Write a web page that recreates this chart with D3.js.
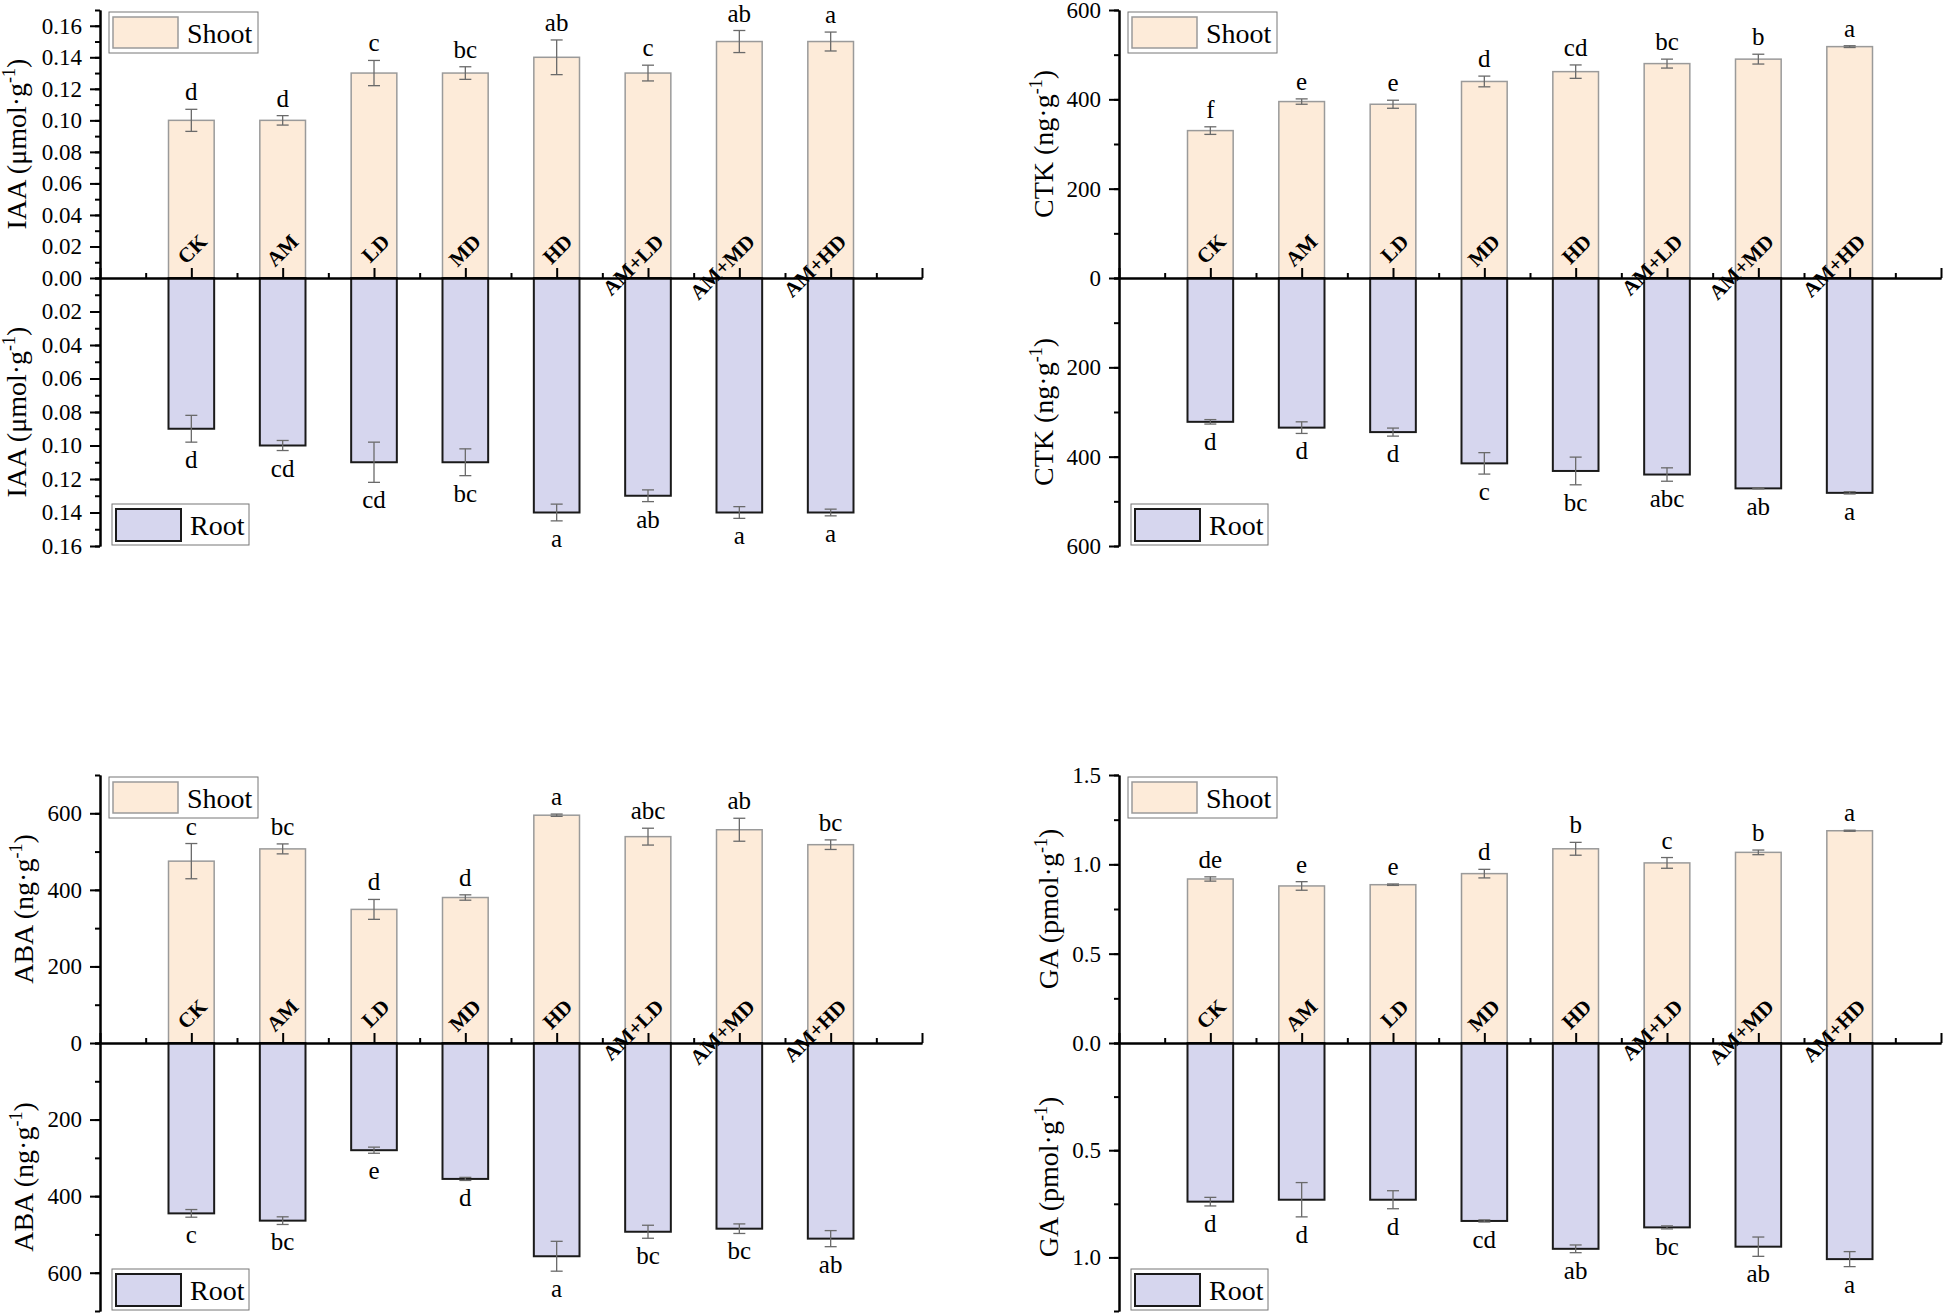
<!DOCTYPE html>
<html>
<head>
<meta charset="utf-8">
<script src="https://cdn.jsdelivr.net/npm/d3@7"></script>
<style>
  body { margin: 0; background: #fff; }
  text { font-family: "Liberation Serif", "Times New Roman", serif; }
</style>
</head>
<body>
<div id="chart"></div>
<script>
// treatments
var categories = ["CK", "AM", "LD", "MD", "HD", "AM+LD", "AM+MD", "AM+HD"];

// IAA (umol/g)
var iaaShoot    = [0.100, 0.100, 0.130, 0.130, 0.140, 0.130, 0.150, 0.150];
var iaaShootErr = [0.007, 0.003, 0.008, 0.004, 0.011, 0.005, 0.007, 0.006];
var iaaShootSig = ["d", "d", "c", "bc", "ab", "c", "ab", "a"];
var iaaRoot     = [0.090, 0.100, 0.110, 0.110, 0.140, 0.130, 0.140, 0.140];
var iaaRootErr  = [0.008, 0.003, 0.012, 0.008, 0.005, 0.0035, 0.0035, 0.002];
var iaaRootSig  = ["d", "cd", "cd", "bc", "a", "ab", "a", "a"];

// CTK (ng/g)
var ctkShoot    = [330, 395, 389, 440, 462, 480, 490, 518];
var ctkShootErr = [8.5, 6, 9, 12, 15, 10, 11, 2];
var ctkShootSig = ["f", "e", "e", "d", "cd", "bc", "b", "a"];
var ctkRoot     = [322, 335, 345, 415, 432, 440, 471, 481];
var ctkRootErr  = [5, 13, 9, 24, 31, 15, 1, 2.5];
var ctkRootSig  = ["d", "d", "d", "c", "bc", "abc", "ab", "a"];

// ABA (ng/g)
var abaShoot    = [475, 507, 349, 380, 595, 539, 557, 518];
var abaShootErr = [46, 13, 26, 7, 3, 22, 30, 12.5];
var abaShootSig = ["c", "bc", "d", "d", "a", "abc", "ab", "bc"];
var abaRoot     = [445, 464, 280, 355, 557, 493, 485, 511];
var abaRootErr  = [10, 10, 8, 4, 39, 17, 12.5, 21];
var abaRootSig  = ["c", "bc", "e", "d", "a", "bc", "bc", "ab"];

// GA (pmol/g)
var gaShoot    = [0.918, 0.879, 0.886, 0.948, 1.087, 1.008, 1.067, 1.188];
var gaShootErr = [0.012, 0.024, 0.004, 0.024, 0.036, 0.030, 0.013, 0.003];
var gaShootSig = ["de", "e", "e", "d", "b", "c", "b", "a"];
var gaRoot     = [0.740, 0.731, 0.731, 0.830, 0.960, 0.860, 0.950, 1.008];
var gaRootErr  = [0.020, 0.080, 0.042, 0.005, 0.018, 0.007, 0.045, 0.035];
var gaRootSig  = ["d", "d", "d", "cd", "ab", "bc", "ab", "a"];

// y tick labels
var iaaTopTicks = [0, 0.02, 0.04, 0.06, 0.08, 0.10, 0.12, 0.14, 0.16];
var iaaBotTicks = [0.02, 0.04, 0.06, 0.08, 0.10, 0.12, 0.14, 0.16];
var ctkTopTicks = [0, 200, 400, 600];
var ctkBotTicks = [200, 400, 600];
var abaTopTicks = [0, 200, 400, 600];
var abaBotTicks = [200, 400, 600];
var gaTopTicks  = [0, 0.5, 1.0, 1.5];
var gaBotTicks  = [0.5, 1.0];

var width = 1944, height = 1315;
var plotW = 822, half = 268;

var shootFill = "#fdebd9", shootStroke = "#9a9a9a",
    rootFill = "#d6d6ee", rootStroke = "#1a1a1a",
    errColor = "#6a6a6a";
var serif = "'Liberation Serif', 'Times New Roman', serif";

var svg = d3.select("#chart")
  .append("svg")
    .attr("width", width)
    .attr("height", height)
    .attr("font-family", serif);

svg.append("rect").attr("width", width).attr("height", height).attr("fill", "#fff");

var panels = [
  {name: "IAA", unit: "μmol·g", x0: 100, y0: 10, topMax: 0.17, botMax: 0.16,
   topTicks: iaaTopTicks, botTicks: iaaBotTicks, minor: 0.01, fmt: d3.format(".2f"), titleOff: 74,
   shoot: iaaShoot, shootErr: iaaShootErr, shootSig: iaaShootSig,
   root: iaaRoot, rootErr: iaaRootErr, rootSig: iaaRootSig},
  {name: "CTK", unit: "ng·g", x0: 1119, y0: 10, topMax: 600, botMax: 600,
   topTicks: ctkTopTicks, botTicks: ctkBotTicks, minor: 100, fmt: d3.format("d"), titleOff: 66,
   shoot: ctkShoot, shootErr: ctkShootErr, shootSig: ctkShootSig,
   root: ctkRoot, rootErr: ctkRootErr, rootSig: ctkRootSig},
  {name: "ABA", unit: "ng·g", x0: 100, y0: 775, topMax: 700, botMax: 700,
   topTicks: abaTopTicks, botTicks: abaBotTicks, minor: 100, fmt: d3.format("d"), titleOff: 67,
   shoot: abaShoot, shootErr: abaShootErr, shootSig: abaShootSig,
   root: abaRoot, rootErr: abaRootErr, rootSig: abaRootSig},
  {name: "GA", unit: "pmol·g", x0: 1119, y0: 775, topMax: 1.5, botMax: 1.25,
   topTicks: gaTopTicks, botTicks: gaBotTicks, minor: 0.25, fmt: d3.format(".1f"), titleOff: 61,
   shoot: gaShoot, shootErr: gaShootErr, shootSig: gaShootSig,
   root: gaRoot, rootErr: gaRootErr, rootSig: gaRootSig}
];

function styleAxis(sel, fontSize) {
  sel.attr("font-family", serif)
     .attr("font-size", fontSize);
  sel.selectAll("path").attr("stroke", "#000").attr("stroke-width", 2);
  sel.selectAll("line").attr("stroke", "#000").attr("stroke-width", 2);
  sel.selectAll("text").attr("fill", "#000");
}

panels.forEach(function(p) {
  var g = svg.append("g");
  var zeroY = p.y0 + half;

  var x = d3.scaleLinear().domain([-1, 8]).range([p.x0, p.x0 + plotW]);
  var yTop = d3.scaleLinear().domain([0, p.topMax]).range([zeroY, p.y0]);
  var yBot = d3.scaleLinear().domain([0, p.botMax]).range([zeroY, zeroY + half]);
  var bw = (x(1) - x(0)) * 0.5;

  // bars
  g.append("g").selectAll("rect")
    .data(p.shoot)
    .enter()
    .append("rect")
      .attr("x", function(d, i) { return x(i) - bw / 2; })
      .attr("y", function(d) { return yTop(d); })
      .attr("width", bw)
      .attr("height", function(d) { return zeroY - yTop(d); })
      .attr("fill", shootFill)
      .attr("stroke", shootStroke)
      .attr("stroke-width", 1.5);

  g.append("g").selectAll("rect")
    .data(p.root)
    .enter()
    .append("rect")
      .attr("x", function(d, i) { return x(i) - bw / 2; })
      .attr("y", zeroY)
      .attr("width", bw)
      .attr("height", function(d) { return yBot(d) - zeroY; })
      .attr("fill", rootFill)
      .attr("stroke", rootStroke)
      .attr("stroke-width", 2);

  // error bars
  function errBars(vals, errs, y) {
    var eg = g.append("g").attr("stroke", errColor).attr("stroke-width", 1.3);
    vals.forEach(function(v, i) {
      var cx = x(i), a = y(v - errs[i]), b = y(v + errs[i]);
      eg.append("line").attr("x1", cx).attr("x2", cx).attr("y1", a).attr("y2", b);
      eg.append("line").attr("x1", cx - 6).attr("x2", cx + 6).attr("y1", a).attr("y2", a);
      eg.append("line").attr("x1", cx - 6).attr("x2", cx + 6).attr("y1", b).attr("y2", b);
    });
  }
  errBars(p.shoot, p.shootErr, yTop);
  errBars(p.root, p.rootErr, yBot);

  // significance letters
  g.append("g").selectAll("text")
    .data(p.shootSig)
    .enter()
    .append("text")
      .attr("x", function(d, i) { return x(i); })
      .attr("y", function(d, i) { return yTop(p.shoot[i] + p.shootErr[i]) - 9; })
      .attr("text-anchor", "middle")
      .attr("font-size", 25)
      .text(function(d) { return d; });

  g.append("g").selectAll("text")
    .data(p.rootSig)
    .enter()
    .append("text")
      .attr("x", function(d, i) { return x(i); })
      .attr("y", function(d, i) { return yBot(p.root[i] + p.rootErr[i]) + 26; })
      .attr("text-anchor", "middle")
      .attr("font-size", 25)
      .text(function(d) { return d; });

  // y axis, shoot half
  var minorTop = d3.range(0, p.topMax + 1e-9, p.minor);
  var minorBot = d3.range(0, p.botMax + 1e-9, p.minor);

  g.append("g")
    .attr("transform", "translate(" + p.x0 + ",0)")
    .call(d3.axisLeft(yTop).tickValues(minorTop).tickSize(5).tickSizeOuter(0).tickFormat(""))
    .call(styleAxis, 23);
  g.append("g")
    .attr("transform", "translate(" + p.x0 + ",0)")
    .call(d3.axisLeft(yTop).tickValues(p.topTicks).tickSize(10).tickSizeOuter(0).tickPadding(8).tickFormat(p.fmt))
    .call(styleAxis, 23);

  // y axis, root half
  g.append("g")
    .attr("transform", "translate(" + p.x0 + ",0)")
    .call(d3.axisLeft(yBot).tickValues(minorBot).tickSize(5).tickSizeOuter(0).tickFormat(""))
    .call(styleAxis, 23);
  g.append("g")
    .attr("transform", "translate(" + p.x0 + ",0)")
    .call(d3.axisLeft(yBot).tickValues(p.botTicks).tickSize(10).tickSizeOuter(0).tickPadding(8).tickFormat(p.fmt))
    .call(styleAxis, 23);

  // x axis at zero
  g.append("g")
    .attr("transform", "translate(0," + zeroY + ")")
    .call(d3.axisTop(x).tickValues(d3.range(-0.5, 8, 1)).tickSize(5).tickSizeOuter(0).tickFormat(""))
    .call(styleAxis, 20);
  g.append("g")
    .attr("transform", "translate(0," + zeroY + ")")
    .call(d3.axisTop(x).tickValues(d3.range(-1, 9)).tickSize(10).tickSizeOuter(0).tickFormat(""))
    .call(styleAxis, 20);

  // treatment labels
  g.append("g").selectAll("text")
    .data(categories)
    .enter()
    .append("text")
      .attr("transform", function(d, i) {
        return "translate(" + (x(i) + 17) + "," + (zeroY - 35) + ") rotate(-45)";
      })
      .attr("text-anchor", "end")
      .attr("font-size", 21)
      .attr("font-weight", "bold")
      .text(function(d) { return d; });

  // axis titles
  [(p.y0 + zeroY) / 2, (zeroY + zeroY + half) / 2].forEach(function(cy) {
    var t = g.append("text")
      .attr("transform", "translate(" + (p.x0 - p.titleOff) + "," + cy + ") rotate(-90)")
      .attr("text-anchor", "middle")
      .attr("font-size", 28);
    t.append("tspan").text(p.name + " (" + p.unit);
    t.append("tspan").attr("font-size", 18).attr("dy", -11).text("-1");
    t.append("tspan").attr("font-size", 28).attr("dy", 11).text(")");
  });

  // legends
  var ls = g.append("g").attr("transform", "translate(" + (p.x0 + 9) + "," + (p.y0 + 2) + ")");
  ls.append("rect").attr("width", 149).attr("height", 41)
    .attr("fill", "#fff").attr("stroke", "#777").attr("stroke-width", 1);
  ls.append("rect").attr("x", 4).attr("y", 5).attr("width", 65).attr("height", 31)
    .attr("fill", shootFill).attr("stroke", shootStroke).attr("stroke-width", 1.5);
  ls.append("text").attr("x", 78).attr("y", 31).attr("font-size", 28).text("Shoot");

  var lr = g.append("g").attr("transform", "translate(" + (p.x0 + 12) + "," + (p.y0 + 494) + ")");
  lr.append("rect").attr("width", 137).attr("height", 41)
    .attr("fill", "#fff").attr("stroke", "#777").attr("stroke-width", 1);
  lr.append("rect").attr("x", 4).attr("y", 5).attr("width", 65).attr("height", 32)
    .attr("fill", rootFill).attr("stroke", rootStroke).attr("stroke-width", 2);
  lr.append("text").attr("x", 78).attr("y", 31).attr("font-size", 28).text("Root");
});
</script>
</body>
</html>
